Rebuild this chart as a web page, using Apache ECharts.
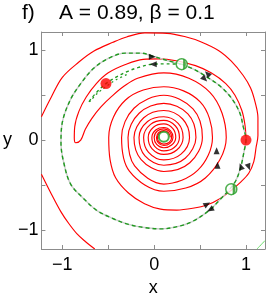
<!DOCTYPE html>
<html><head><meta charset="utf-8">
<script src="https://cdn.jsdelivr.net/npm/echarts@6/dist/echarts.min.js"></script>
<style>html,body{margin:0;padding:0;background:#fff}#c{width:266px;height:302px}</style>
</head><body><div id="c"></div>
<script>
// ---- data ----
const xTicks = [-1, -0.5, 0, 0.5, 1];
const yTicks = [-1, -0.5, 0, 0.5, 1];
const xTickLabels = [-1, 0, 1];
const yTickLabels = [-1, 0, 1];
const xRange = [-1.228, 1.207];
const yRange = [-1.214, 1.205];

// outer red trajectory entering from the left edge and spiralling to the focus
const redOuter = [
 [-1.228,0.26],[-1.12,0.48],[-1.0,0.70],[-0.82,0.87],[-0.66,0.99],[-0.45,1.09],[-0.3,1.15],[-0.1,1.195],
 [0.14,1.19],[0.35,1.15],[0.5,1.1],[0.7,1.0],[0.84,0.88],[0.97,0.72],[1.05,0.58],[1.1,0.42],[1.13,0.25],
 [1.13,0.05],[1.11,-0.08],[1.085,-0.24],[1.03,-0.37],[0.93,-0.48],[0.85,-0.55],[0.72,-0.65],[0.58,-0.72],
 [0.42,-0.76],[0.245,-0.78],[0.07,-0.77],[-0.105,-0.71],[-0.28,-0.59],[-0.42,-0.42],[-0.48,-0.22],
 [-0.495,0.03],[-0.312,0.447],[0.105,0.595],[0.501,0.426],[0.635,0.03],[0.473,-0.338],[0.105,-0.49],
 [-0.213,-0.288],[-0.285,0.03],[-0.164,0.299],[0.105,0.41],[0.367,0.292],[0.455,0.03],[0.338,-0.203],
 [0.105,-0.28],[-0.1,-0.175],[-0.165,0.03],[-0.072,0.207],[0.105,0.26],[0.261,0.186],[0.315,0.03],
 [0.246,-0.111],[0.105,-0.16],[-0.022,-0.097],[-0.065,0.03],[-0.008,0.143],[0.105,0.18],[0.204,0.129],
 [0.235,0.03],[0.19,-0.055],[0.105,-0.085],[0.027,-0.048],[0.0,0.03],[0.034,0.101],[0.105,0.125],
 [0.169,0.094],[0.19,0.03],[0.162,-0.027],[0.105,-0.045],[0.054,-0.021],[0.035,0.03],[0.057,0.078],[0.105,0.096]
];
// hook-shaped red trajectory leaving the right red point
const redHook = [
 [1.0,0.0],[0.99,0.16],[0.955,0.33],[0.88,0.5],[0.78,0.63],[0.62,0.75],[0.45,0.83],[0.24,0.885],
 [0.05,0.905],[-0.12,0.9],[-0.32,0.84],[-0.5,0.75],[-0.63,0.63],[-0.74,0.48],[-0.82,0.32],[-0.865,0.15],
 [-0.87,0.02],[-0.855,-0.03],[-0.8,0.0],[-0.75,0.12],[-0.68,0.24],[-0.58,0.37],[-0.46,0.49],[-0.33,0.6],
 [-0.18,0.69],[0.105,0.75],[0.607,0.532],[0.785,0.03],[0.557,-0.422],[0.105,-0.57],[-0.27,-0.345],
 [-0.355,0.03],[-0.22,0.355],[0.105,0.5],[0.423,0.348],[0.525,0.03],[0.388,-0.253],[0.105,-0.35],
 [-0.142,-0.217],[-0.22,0.03],[-0.114,0.249],[0.105,0.33],[0.31,0.235],[0.385,0.03],[0.292,-0.157],
 [0.105,-0.22],[-0.061,-0.136],[-0.115,0.03],[-0.04,0.175],[0.105,0.22],[0.232,0.157],[0.275,0.03],
 [0.218,-0.083],[0.105,-0.12],[0.006,-0.069],[-0.025,0.03],[0.02,0.115],[0.105,0.14],[0.179,0.104],
 [0.205,0.03],[0.172,-0.037],[0.105,-0.06],[0.045,-0.03],[0.025,0.03],[0.05,0.085],[0.105,0.106],
 [0.157,0.082],[0.177,0.03]
];
// red arc in the lower-left corner
const redCorner = [[-1.228,-0.38],[-1.12,-0.6],[-1.015,-0.8],[-0.93,-0.93],[-0.84,-1.046],[-0.75,-1.13],[-0.647,-1.214]];

// green dashed separatrix loop
const greenLoop = [
 [0.30,0.846],[0.45,0.78],[0.58,0.70],[0.72,0.60],[0.84,0.47],[0.93,0.31],[0.97,0.15],[1.0,0.0],
 [0.98,-0.12],[0.944,-0.295],[0.89,-0.45],[0.82,-0.55],[0.72,-0.66],[0.61,-0.775],[0.42,-0.905],
 [0.25,-0.965],[0.07,-0.99],[-0.105,-0.975],[-0.28,-0.94],[-0.46,-0.87],[-0.63,-0.78],[-0.77,-0.65],
 [-0.91,-0.49],[-0.985,-0.25],[-1.015,-0.03],[-1.0,0.2],[-0.91,0.455],[-0.8,0.63],[-0.66,0.80],
 [-0.5,0.91],[-0.315,0.97],[-0.15,0.97],[0.0,0.93],[0.15,0.885],[0.30,0.846]
];
// green dashed branch from the top saddle to the left red point
const greenInner = [[0.30,0.846],[0.15,0.85],[-0.02,0.846],[-0.17,0.81],[-0.28,0.77],[-0.4,0.71],[-0.525,0.63],[-0.6,0.56],[-0.68,0.47],[-0.72,0.41]];
const greenInner2 = [[-0.3,0.73],[-0.42,0.67],[-0.52,0.6],[-0.62,0.52],[-0.7,0.43]];
// faint green trajectory at the lower-right corner
const greenCorner = [[1.12,-1.214],[1.207,-1.12]];

const redPoints = [[-0.525,0.63],[1.0,0.0]];
const focusPoint = [[0.105,0.037]];
const saddlePoints = [[0.30,0.846],[0.84,-0.547]];

// flow arrows: position and heading (degrees, 0 = up, counter-clockwise)
const arrowPts = [[-0.02,0.93],[-0.01,0.846],[0.58,0.74],[0.55,0.68],[0.68,-0.12],[0.69,-0.28],[0.944,-0.295],[1.03,-0.3],[0.577,-0.714],[0.61,-0.776]];
const arrowDir = [-90, 90, 45, 225, 0, 0, 20, 200, -60, 120];

// ---- chart ----
const fmt = v => String(v).replace('-', '\u2212');
const FONT = 'Liberation Sans, Arial, sans-serif';
const chart = echarts.init(document.getElementById('c'));
const lineS = (data, color, width, type, z) => ({type:'line', data, smooth:0.35, showSymbol:false, silent:true,
  lineStyle:{color, width, type:type||'solid'}, z:z||2, clip:true, animation:false});
const tick = {inside:true, length:4, lineStyle:{color:'#8c8c8c'}};
chart.setOption({
  animation:false,
  title:[
    {text:'f)', left:17, top:-2, textStyle:{fontFamily:FONT, fontSize:21, fontWeight:'normal', color:'#000'}},
    {text:'A = 0.89, \u03b2 = 0.1', left:54, top:-2, textStyle:{fontFamily:FONT, fontSize:21, fontWeight:'normal', color:'#000'}}
  ],
  grid:{left:33, right:1, top:32, bottom:39},
  xAxis:[
   {type:'value', min:xRange[0], max:xRange[1], name:'x', nameLocation:'middle', nameGap:30,
    nameTextStyle:{fontFamily:FONT, fontSize:18, color:'#000'},
    axisLine:{onZero:false, lineStyle:{color:'#8c8c8c', width:1}}, splitLine:{show:false},
    axisTick:Object.assign({customValues:xTicks}, tick),
    axisLabel:{customValues:xTickLabels, formatter:fmt, margin:7, fontFamily:FONT, fontSize:18, color:'#000'}},
   {type:'value', position:'top', min:xRange[0], max:xRange[1],
    axisLine:{onZero:false, lineStyle:{color:'#8c8c8c'}}, splitLine:{show:false}, axisLabel:{show:false},
    axisTick:Object.assign({customValues:xTicks}, tick)}
  ],
  yAxis:[
   {type:'value', min:yRange[0], max:yRange[1], name:'y', nameLocation:'middle', nameGap:26, nameRotate:0,
    nameTextStyle:{fontFamily:FONT, fontSize:18, color:'#000'},
    axisLine:{onZero:false, lineStyle:{color:'#8c8c8c'}}, splitLine:{show:false},
    axisTick:Object.assign({customValues:yTicks}, tick),
    axisLabel:{customValues:yTickLabels, formatter:fmt, margin:3, fontFamily:FONT, fontSize:18, color:'#000'}},
   {type:'value', position:'right', min:yRange[0], max:yRange[1],
    axisLine:{onZero:false, lineStyle:{color:'#8c8c8c'}}, splitLine:{show:false}, axisLabel:{show:false},
    axisTick:Object.assign({customValues:yTicks}, tick)}
  ],
  series:[
    lineS(redOuter,'#ff0000',1.15),
    lineS(redHook,'#ff0000',1.15),
    lineS(redCorner,'#ff0000',1.15),
    lineS(greenLoop,'#cccccc',1.4,'solid',3),
    lineS(greenLoop,'#1f9a1f',1.4,[4,3],4),
    lineS(greenInner,'#1f9a1f',1.4,[3,3],4),
    lineS(greenInner2,'#1f9a1f',1.2,[2,3],4),
    lineS(greenCorner,'#66dd66',1,'solid',3),
    {type:'scatter', data:redPoints, symbol:'circle', symbolSize:11, itemStyle:{color:'#ff0000'}, z:6, silent:true},
    {type:'scatter', data:focusPoint, symbol:'circle', symbolSize:10, itemStyle:{color:'#fff', borderColor:'#1f9a1f', borderWidth:2}, z:6, silent:true},
    {type:'scatter', data:saddlePoints, symbol:'circle', symbolSize:11, itemStyle:{color:'#fff', borderColor:'#1f9a1f', borderWidth:1.5}, z:6, silent:true},
    {type:'scatter', data:saddlePoints, symbol:'path://M0,0 A10,10 0 0 1 0,20 Z', symbolKeepAspect:true, symbolSize:[5.5,11], symbolOffset:[2.75,0], itemStyle:{color:'#1f9a1f'}, z:7, silent:true},
    {type:'scatter', data:arrowPts.map((p,i)=>({value:p, symbolRotate:arrowDir[i]})), symbol:'triangle', symbolSize:[6,7], itemStyle:{color:'#000'}, z:8, silent:true}
  ]
});
</script></body></html>
